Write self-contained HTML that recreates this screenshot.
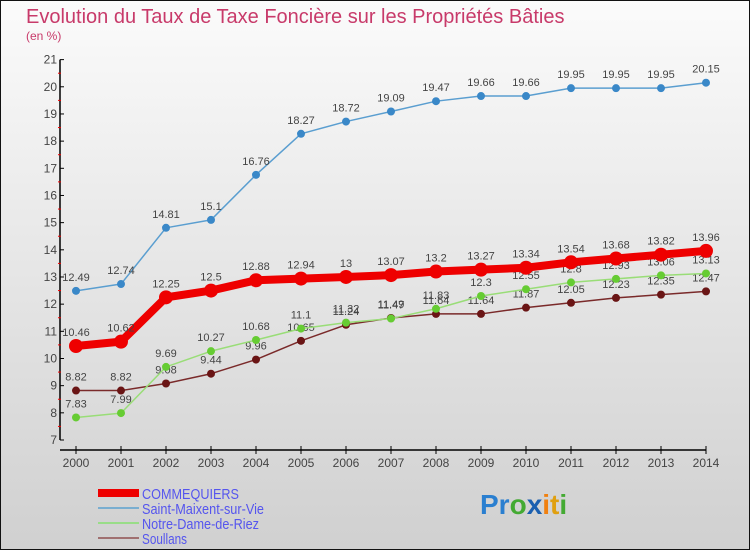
<!DOCTYPE html>
<html><head><meta charset="utf-8"><style>
body{margin:0}
svg text{font-family:"Liberation Sans",sans-serif}
</style></head><body>
<svg id="c" width="750" height="550" xmlns="http://www.w3.org/2000/svg">
<defs><linearGradient id="bg" x1="0" y1="0" x2="0" y2="1"><stop offset="0" stop-color="#fbfbfb"/><stop offset="1" stop-color="#d0d0d0"/></linearGradient></defs>
<rect x="0.5" y="0.5" width="749" height="549" fill="url(#bg)" stroke="#111"/>
<text x="26" y="23" font-size="20" fill="#c83a6a">Evolution du Taux de Taxe Foncière sur les Propriétés Bâties</text>
<text x="26" y="40" font-size="12" fill="#c83a6a">(en %)</text>
<g id="axes"></g><g id="series"></g>
<g>
<rect x="98" y="489" width="41" height="8" fill="#e00"/>
<text x="142" y="499" font-size="15" fill="#5555ee" textLength="97" lengthAdjust="spacingAndGlyphs">COMMEQUIERS</text>
<line x1="98" y1="508" x2="139" y2="508" stroke="#7aaed0" stroke-width="2"/>
<text x="142" y="514" font-size="15" fill="#5555ee" textLength="122" lengthAdjust="spacingAndGlyphs">Saint-Maixent-sur-Vie</text>
<line x1="98" y1="523" x2="139" y2="523" stroke="#99dd88" stroke-width="2"/>
<text x="142" y="529" font-size="15" fill="#5555ee" textLength="117" lengthAdjust="spacingAndGlyphs">Notre-Dame-de-Riez</text>
<line x1="98" y1="538" x2="139" y2="538" stroke="#a07070" stroke-width="2"/>
<text x="142" y="544" font-size="15" fill="#5555ee" textLength="45" lengthAdjust="spacingAndGlyphs">Soullans</text>
</g>
<g font-size="28" font-weight="bold">
<text x="480" y="514"><tspan fill="#2a7fd0">Pr</tspan><tspan fill="#44aa33">o</tspan><tspan fill="#1a5fb0">x</tspan><tspan fill="#f08010">i</tspan><tspan fill="#e0a010">t</tspan><tspan fill="#44aa33">i</tspan></text>
</g>
</svg>
<script>
const years=[2000,2001,2002,2003,2004,2005,2006,2007,2008,2009,2010,2011,2012,2013,2014];
const commequiers=[10.46,10.62,12.25,12.5,12.88,12.94,13,13.07,13.2,13.27,13.34,13.54,13.68,13.82,13.96];
const saintMaixent=[12.49,12.74,14.81,15.1,16.76,18.27,18.72,19.09,19.47,19.66,19.66,19.95,19.95,19.95,20.15];
const notreDame=[7.83,7.99,9.69,10.27,10.68,11.1,11.32,11.47,11.83,12.3,12.55,12.8,12.93,13.06,13.13];
const soullans=[8.82,8.82,9.08,9.44,9.96,10.65,11.24,11.49,11.64,11.64,11.87,12.05,12.23,12.35,12.47];
const yTicks=[7,8,9,10,11,12,13,14,15,16,17,18,19,20,21];
const NS="http://www.w3.org/2000/svg";
const X=i=>76+i*45;
const Y=v=>440-(v-7)*27.17;
function mk(tag,attrs,parent){const e=document.createElementNS(NS,tag);for(const k in attrs)e.setAttribute(k,attrs[k]);parent.appendChild(e);return e;}
const ax=document.getElementById('axes');
let l=mk('line',{x1:60,y1:Y(21),x2:60,y2:Y(7),stroke:'#000','stroke-width':1.5},ax);


l=mk('line',{x1:60,y1:Y(7)+10,x2:X(14),y2:Y(7)+10,stroke:'#000','stroke-width':1.5},ax);


yTicks.forEach((t,i)=>{
  mk('line',{x1:60,y1:Y(t),x2:64,y2:Y(t),stroke:'#000'},ax);
  if(i<yTicks.length-1)mk('line',{x1:58,y1:Y(t+0.5),x2:61,y2:Y(t+0.5),stroke:'#e00'},ax);
  const tx=mk('text',{x:57,y:Y(t)+4,'font-size':12,fill:'#444','text-anchor':'end'},ax);
  tx.textContent=t;
  
  
});
years.forEach((yr,i)=>{
  mk('line',{x1:X(i),y1:Y(7)+6,x2:X(i),y2:Y(7)+14,stroke:'#000'},ax);
  const tx=mk('text',{x:X(i),y:Y(7)+27,'font-size':12,fill:'#444','text-anchor':'middle'},ax);
  tx.textContent=yr;
  
  
});
const sg=document.getElementById('series');
function draw(vals,name,color,dot,w,r){
  const g=mk('g',{},sg);
  
  
  const p=mk('polyline',{points:vals.map((v,i)=>X(i)+','+Y(v)).join(' '),fill:'none',stroke:color,'stroke-width':w,'stroke-linejoin':'round'},g);
  
  
  vals.forEach((v,i)=>{
    const c=mk('circle',{cx:X(i),cy:Y(v),r:r,fill:dot},g);
    
    
    const t=mk('text',{x:X(i),y:Y(v)-10,'font-size':11,fill:'#444','text-anchor':'middle'},g);
    t.textContent=v;
    
    
  });
}
draw(soullans,'soullans','#7a2a2a','#6a1515',1.5,4);
draw(notreDame,'notre-dame','#99dd77','#66cc33',1.5,4);
draw(saintMaixent,'saint-maixent','#5a9ed0','#3a88c8',1.5,4);
draw(commequiers,'commequiers','#ee0000','#ee0000',8,7);
</script>
</body></html>
